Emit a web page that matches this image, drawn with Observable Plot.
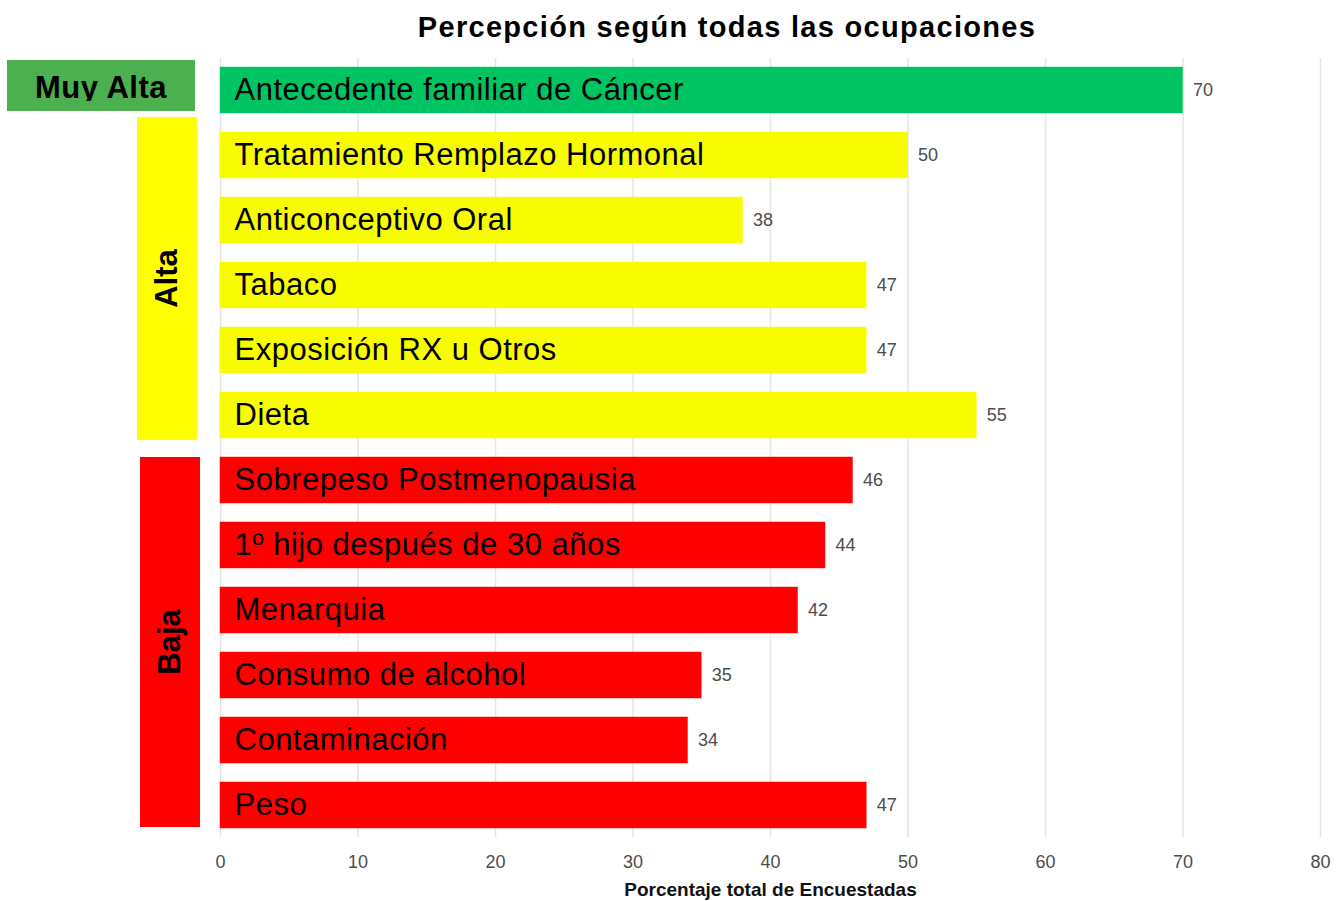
<!DOCTYPE html>
<html>
<head>
<meta charset="utf-8">
<script src="https://cdn.jsdelivr.net/npm/d3@7"></script>
<script src="https://cdn.jsdelivr.net/npm/@observablehq/plot@0.6"></script>
<style>
  html, body { margin: 0; padding: 0; background: #fff; }
  body { width: 1340px; height: 901px; overflow: hidden; font-family: "Liberation Sans", Arial, sans-serif; }
  #title { box-sizing: border-box; width: 1340px; height: 50px; padding-left: 114px; text-align: center;
           font: bold 29px "Liberation Sans", Arial, sans-serif; letter-spacing: 1.3px; line-height: 54px; color: #000; white-space: nowrap; }
  #chart svg { display: block; }
</style>
</head>
<body>
<div id="title">Percepción según todas las ocupaciones</div>
<div id="chart"></div>
<script>
const categories = [
  "Antecedente familiar de Cáncer",
  "Tratamiento Remplazo Hormonal",
  "Anticonceptivo Oral",
  "Tabaco",
  "Exposición RX u Otros",
  "Dieta",
  "Sobrepeso Postmenopausia",
  "1º hijo después de 30 años",
  "Menarquia",
  "Consumo de alcohol",
  "Contaminación",
  "Peso"
];
const values = [70, 50, 38, 47, 47, 55, 46, 44, 42, 35, 34, 47];
const levels = ["Muy Alta", "Alta", "Alta", "Alta", "Alta", "Alta", "Baja", "Baja", "Baja", "Baja", "Baja", "Baja"];
const levelNames = ["Muy Alta", "Alta", "Baja"];
const barColors = ["#00c462", "#f7fd00", "#ff0000"];
const boxColors = ["#4caf50", "#ffff00", "#ff0000"];
const xTicks = [0, 10, 20, 30, 40, 50, 60, 70, 80];
const xLabel = "Porcentaje total de Encuestadas";

const data = categories.map((c, i) => ({category: c, value: values[i], level: levels[i]}));

const plot = Plot.plot({
  width: 1340,
  height: 851,
  marginLeft: 220,
  marginRight: 20,
  marginTop: 8,
  marginBottom: 64,
  style: {fontFamily: "Liberation Sans, Arial, sans-serif", background: "#fff"},
  x: {domain: [0, 80], ticks: xTicks, label: null},
  y: {domain: categories, paddingInner: 0.3, paddingOuter: 0.12, axis: null},
  color: {domain: levelNames, range: barColors},
  marks: [
    Plot.gridX(xTicks, {stroke: "#e5e5e5", strokeOpacity: 1, strokeWidth: 1.5}),
    Plot.axisX(xTicks, {tickSize: 0, tickPadding: 18, fontSize: 18, color: "#4d4d4d", label: null}),
    Plot.barX(data, {x: "value", y: "category", fill: "level", stroke: "level", strokeOpacity: 0.45, strokeWidth: 1}),
    Plot.text(data, {x: 0, y: "category", text: "category", textAnchor: "start", dx: 14, fontSize: 31, fill: "#000"}),
    Plot.text(data, {x: "value", y: "category", text: d => String(d.value), textAnchor: "start", dx: 10, fontSize: 18, fill: "#4d4d4d"}),
    Plot.text([xLabel], {frameAnchor: "bottom", dy: 58, text: d => d, fontSize: 19, fontWeight: "bold", fill: "#111"})
  ]
});

document.getElementById("chart").appendChild(plot);
d3.select(plot).selectAll("text").filter(function() { return this.textContent && categories.includes(this.textContent); })
  .style("letter-spacing", "0.5px");

// Group annotation boxes on the left, positioned from the y band scale
const y = plot.scale("y");
const bw = y.bandwidth;
const svg = d3.select(plot);
const boxLayout = {
  "Muy Alta": {x0: 7, x1: 195, padTop: 7, padBottom: -2, rotate: false},
  "Alta": {x0: 137, x1: 197, padTop: 15, padBottom: 2, rotate: true},
  "Baja": {x0: 140, x1: 200, padTop: 0, padBottom: -1, rotate: true}
};
const g = svg.append("g");
levelNames.forEach((name, k) => {
  const cats = categories.filter((c, i) => levels[i] === name);
  const top = y.apply(cats[0]) - boxLayout[name].padTop;
  const bottom = y.apply(cats[cats.length - 1]) + bw + boxLayout[name].padBottom;
  const L = boxLayout[name];
  if (!L.rotate) {
    const clipId = "clip-" + k;
    g.append("clipPath").attr("id", clipId).append("rect")
      .attr("x", L.x0).attr("y", top).attr("width", L.x1 - L.x0).attr("height", 41);
    g.append("rect").attr("x", L.x0).attr("y", top).attr("width", L.x1 - L.x0).attr("height", bottom - top)
      .attr("fill", boxColors[k]);
    g.append("text").attr("clip-path", `url(#${clipId})`)
      .attr("x", (L.x0 + L.x1) / 2).attr("y", top + 38)
      .attr("text-anchor", "middle").attr("font-size", 31).attr("font-weight", "bold").attr("fill", "#000")
      .style("letter-spacing", "0.5px")
      .text(name);
  } else {
    g.append("rect").attr("x", L.x0).attr("y", top).attr("width", L.x1 - L.x0).attr("height", bottom - top)
      .attr("fill", boxColors[k]);
    const cx = (L.x0 + L.x1) / 2, cy = (top + bottom) / 2;
    g.append("text").attr("transform", `translate(${cx + 10},${cy}) rotate(-90)`)
      .attr("text-anchor", "middle").attr("font-size", 31).attr("font-weight", "bold").attr("fill", "#000")
      .text(name);
  }
});
</script>
</body>
</html>
